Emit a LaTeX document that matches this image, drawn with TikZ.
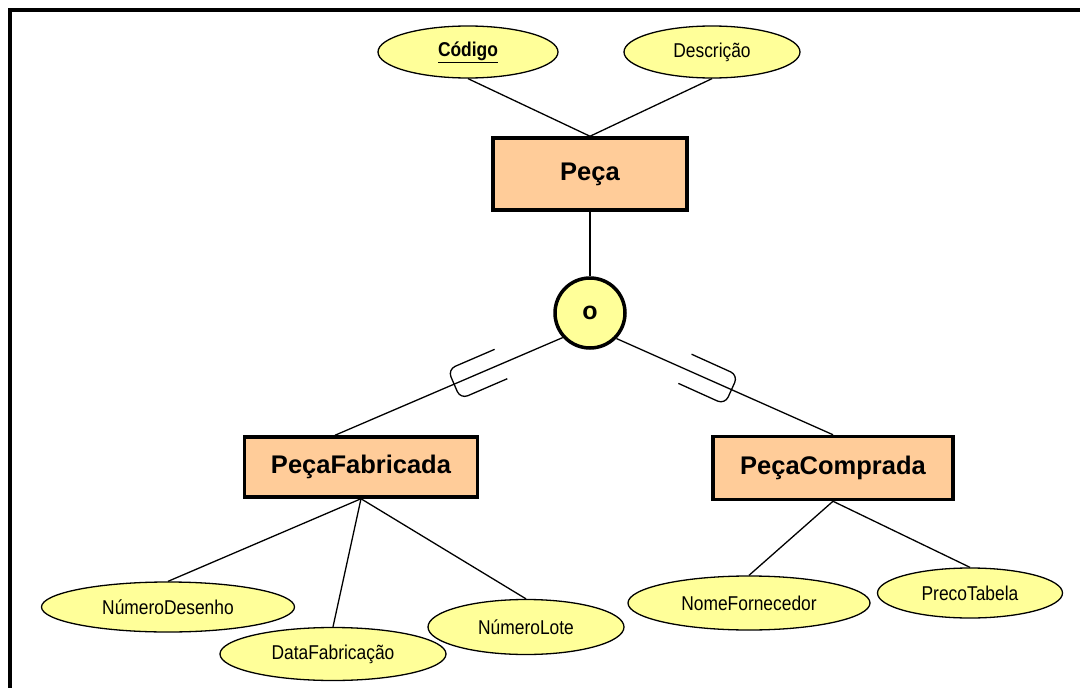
\documentclass[tikz,border=0pt]{standalone}
\usepackage{fontspec}
\setmainfont{Liberation Sans}
\newfontfamily\attrfont[FakeStretch=0.87]{Liberation Sans}
\usetikzlibrary{shapes,positioning}
\definecolor{attrfill}{HTML}{FFFF99}
\definecolor{entfill}{HTML}{FFCC99}
\tikzset{
  entity/.style={draw, line width=3.5pt, fill=entfill, font=\bfseries\fontsize{25.5}{30}\selectfont},
  attr/.style={ellipse, draw, line width=1.3pt, fill=attrfill, inner sep=0pt, font=\attrfont\fontsize{20}{24}\selectfont},
  link/.style={line width=1.3pt}
}
\begin{document}
\begin{tikzpicture}[x=1pt, y=-1pt]
      \useasboundingbox (0,0) rectangle (1080,688);
      \begin{scope}
        \clip (0,0) rectangle (1080,688);
        \draw[line width=4pt] (10,10) rectangle (1100,720);
      \end{scope}

      % Entities
      \node[entity, minimum width=194pt, minimum height=72pt] (peca) at (590,174) {Peça};
      \node[entity, minimum width=233pt, minimum height=60pt] (fab) at (361,467) {PeçaFabricada};
      \node[entity, minimum width=240pt, minimum height=63pt] (comp) at (833,468) {PeçaComprada};

      % Specialization circle
      \node[circle, draw, line width=3.5pt, fill=attrfill, minimum size=70pt, font=\bfseries\fontsize{25}{30}\selectfont] (gen) at (590,313) {o};

      % Attributes
      \node[attr, minimum width=180pt, minimum height=52pt] (cod) at (468,52) {\underline{\textbf{Código}}};
      \node[attr, minimum width=176pt, minimum height=52pt] (desc) at (712,52) {Descrição};
      \node[attr, minimum width=253pt, minimum height=50pt] (nd) at (168,607) {NúmeroDesenho};
      \node[attr, minimum width=226pt, minimum height=53pt] (df) at (333,654) {DataFabricação};
      \node[attr, minimum width=196pt, minimum height=55pt] (nl) at (526,627) {NúmeroLote};
      \node[attr, minimum width=242pt, minimum height=54pt] (nf) at (749,603) {NomeFornecedor};
      \node[attr, minimum width=185pt, minimum height=50pt] (pt) at (970,593) {PrecoTabela};

      % Connections
      \foreach \a in {cod,desc}
        \draw[link] (\a.south) -- (peca.north);
      \draw[link] (peca.south) -- (gen.north);
      \draw[link] (gen.222) -- coordinate[pos=0.38] (uL) ([xshift=-26pt]fab.north);
      \draw[link] (gen.-44) -- coordinate[pos=0.43] (uR) (comp.north);
      \foreach \a in {nd,df,nl}
        \draw[link] (fab.south) -- (\a.north);
      \foreach \a in {nf,pt}
        \draw[link] (comp.south) -- (\a.north);

      % Subset marks
      \begin{scope}[shift={(uL)}, rotate=23.3]
        \draw[link, rounded corners=8pt] (27,-16) -- (-24,-16) -- (-24,16) -- (27,16);
      \end{scope}
      \begin{scope}[shift={(uR)}, rotate=155.7]
        \draw[link, rounded corners=8pt] (27,-16) -- (-24,-16) -- (-24,16) -- (27,16);
      \end{scope}
    \end{tikzpicture}
\end{document}
